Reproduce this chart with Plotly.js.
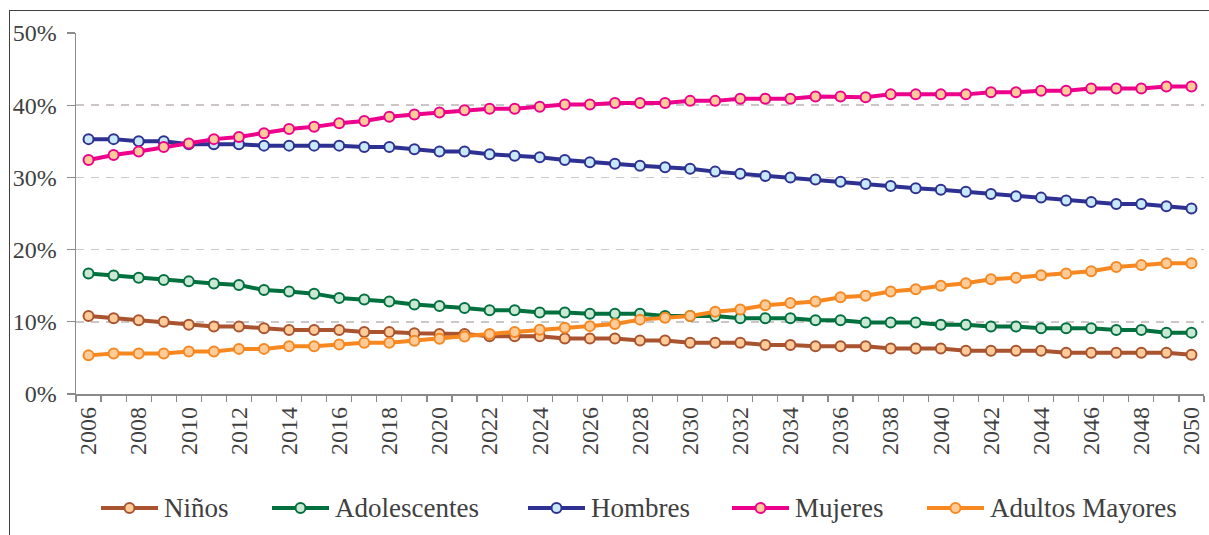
<!DOCTYPE html>
<html>
<head>
<meta charset="utf-8">
<script src="https://cdn.plot.ly/plotly-3.0.1.min.js"></script>
<style>
  html, body { margin: 0; padding: 0; background: #ffffff; overflow: hidden; }
  #wrap { position: relative; width: 1209px; height: 535px; }
  #chart { position: absolute; left: 0; top: 0; width: 1209px; height: 535px; }
  #frame {
    position: absolute; left: 9px; top: 10px; width: 1400px; height: 700px;
    border: 1.5px solid #404040; pointer-events: none;
  }
</style>
</head>
<body>
<div id="wrap">
  <div id="chart"></div>
  <div id="frame"></div>
</div>
<script>
// Population share by group, 2006-2050 (percent)
const years = [2006, 2007, 2008, 2009, 2010, 2011, 2012, 2013, 2014, 2015,
               2016, 2017, 2018, 2019, 2020, 2021, 2022, 2023, 2024, 2025,
               2026, 2027, 2028, 2029, 2030, 2031, 2032, 2033, 2034, 2035,
               2036, 2037, 2038, 2039, 2040, 2041, 2042, 2043, 2044, 2045,
               2046, 2047, 2048, 2049, 2050];

const ninos = [10.8, 10.5, 10.2, 10.0, 9.6, 9.35, 9.35, 9.1, 8.85, 8.85,
               8.85, 8.6, 8.6, 8.4, 8.3, 8.3, 8.0, 8.0, 8.0, 7.7,
               7.7, 7.7, 7.4, 7.4, 7.1, 7.1, 7.1, 6.8, 6.8, 6.6,
               6.6, 6.6, 6.3, 6.3, 6.3, 6.0, 6.0, 6.0, 6.0, 5.7,
               5.7, 5.7, 5.7, 5.7, 5.45];

const adolescentes = [16.7, 16.4, 16.1, 15.8, 15.6, 15.3, 15.1, 14.4, 14.2, 13.9,
                      13.3, 13.1, 12.8, 12.4, 12.2, 11.9, 11.6, 11.6, 11.3, 11.3,
                      11.1, 11.1, 11.1, 10.8, 10.8, 10.8, 10.5, 10.5, 10.5, 10.2,
                      10.2, 9.9, 9.9, 9.9, 9.6, 9.6, 9.35, 9.35, 9.1, 9.1,
                      9.1, 8.85, 8.85, 8.5, 8.5];

const hombres = [35.3, 35.3, 35.0, 35.0, 34.6, 34.6, 34.6, 34.4, 34.4, 34.4,
                 34.4, 34.2, 34.2, 33.9, 33.6, 33.6, 33.2, 33.0, 32.8, 32.4,
                 32.1, 31.9, 31.6, 31.4, 31.2, 30.8, 30.5, 30.2, 30.0, 29.7,
                 29.4, 29.1, 28.8, 28.5, 28.3, 28.0, 27.7, 27.4, 27.2, 26.8,
                 26.6, 26.3, 26.3, 26.0, 25.7];

const mujeres = [32.4, 33.1, 33.6, 34.2, 34.7, 35.3, 35.6, 36.1, 36.7, 37.0,
                 37.5, 37.8, 38.4, 38.7, 39.0, 39.3, 39.5, 39.5, 39.8, 40.1,
                 40.1, 40.3, 40.3, 40.3, 40.6, 40.6, 40.9, 40.9, 40.9, 41.2,
                 41.2, 41.1, 41.5, 41.5, 41.5, 41.5, 41.8, 41.8, 42.0, 42.0,
                 42.3, 42.3, 42.3, 42.6, 42.6];

const adultosMayores = [5.35, 5.6, 5.6, 5.6, 5.9, 5.9, 6.25, 6.25, 6.6, 6.6,
                        6.85, 7.1, 7.1, 7.37, 7.65, 7.97, 8.3, 8.6, 8.9, 9.17,
                        9.4, 9.7, 10.3, 10.55, 10.8, 11.4, 11.7, 12.3, 12.6, 12.8,
                        13.4, 13.6, 14.2, 14.5, 15.0, 15.35, 15.9, 16.1, 16.45, 16.7,
                        17.0, 17.6, 17.85, 18.1, 18.1];

const seriesNames = ['Niños', 'Adolescentes', 'Hombres', 'Mujeres', 'Adultos Mayores'];
const seriesValues = [ninos, adolescentes, hombres, mujeres, adultosMayores];
const lineColors = ['#A9532F', '#00703F', '#2E3192', '#EC008C', '#F7871F'];
const fillColors = ['#FFCC99', '#CBE8D5', '#C8E9F8', '#FFCC99', '#FFCC99'];

const serifFamily = 'Liberation Serif, DejaVu Serif';
const textColor = '#404040';
const axisColor = '#8a8a8a';

const traces = seriesNames.map((name, i) => ({
  type: 'scatter',
  mode: 'lines+markers',
  name: name,
  x: years,
  y: seriesValues[i],
  line: { color: lineColors[i], width: 4 },
  marker: {
    symbol: 'circle',
    size: 10,
    color: fillColors[i],
    line: { color: lineColors[i], width: 2 }
  },
  showlegend: false
}));

// Legend drawn below the plot: a line sample with a centred marker, then the name.
// Horizontal placement in pixels, converted to paper fraction of the plot width.
const plotLeft = 76, plotWidth = 1128, plotBottom = 394, plotHeight = 361;
const legendLineStart = [101, 272, 528, 732, 927];
const legendLineLength = 57;
const legendRowY = (plotBottom - 508) / plotHeight;
const toPaperX = px => (px - plotLeft) / plotWidth;

const shapes = [];
const annotations = [];
seriesNames.forEach((name, i) => {
  const x0 = toPaperX(legendLineStart[i]);
  const x1 = toPaperX(legendLineStart[i] + legendLineLength);
  const xm = (x0 + x1) / 2;
  shapes.push({
    type: 'line', xref: 'paper', yref: 'paper',
    x0: x0, x1: x1, y0: legendRowY, y1: legendRowY,
    line: { color: lineColors[i], width: 4 }
  });
  shapes.push({
    type: 'circle', xref: 'paper', yref: 'paper',
    xsizemode: 'pixel', ysizemode: 'pixel',
    xanchor: xm, yanchor: legendRowY,
    x0: -5, x1: 5, y0: -5, y1: 5,
    fillcolor: fillColors[i],
    line: { color: lineColors[i], width: 2 }
  });
  annotations.push({
    xref: 'paper', yref: 'paper',
    x: toPaperX(legendLineStart[i] + legendLineLength + 4),
    y: legendRowY,
    xanchor: 'left', yanchor: 'middle',
    text: name, showarrow: false,
    font: { family: serifFamily, size: 27, color: textColor }
  });
});

// Labels every second year; tick marks sit on the boundaries between years
const labelYears = years.filter(y => y % 2 === 0);

const layout = {
  width: 1209,
  height: 535,
  margin: { l: plotLeft, r: 1209 - plotLeft - plotWidth, t: 33, b: 535 - plotBottom },
  paper_bgcolor: '#ffffff',
  plot_bgcolor: '#ffffff',
  font: { family: serifFamily, color: textColor },
  showlegend: false,
  shapes: shapes,
  annotations: annotations,
  xaxis: {
    type: 'linear',
    range: [years[0] - 0.5, years[years.length - 1] + 0.5],
    tickmode: 'array',
    tickvals: labelYears,
    ticktext: labelYears.map(String),
    ticks: '',
    tickangle: -90,
    tickfont: { family: serifFamily, size: 24, color: textColor },
    ticklabelstandoff: 2,
    showline: true,
    linecolor: axisColor,
    linewidth: 1.5,
    showgrid: false,
    zeroline: false,
    minor: {
      tickmode: 'linear',
      tick0: years[0] - 0.5,
      dtick: 1,
      ticks: 'outside',
      ticklen: 6,
      tickwidth: 1.2,
      tickcolor: axisColor,
      showgrid: false
    },
    fixedrange: true
  },
  yaxis: {
    range: [0, 50],
    tickmode: 'linear',
    tick0: 0,
    dtick: 10,
    ticksuffix: '%',
    ticks: 'outside',
    ticklen: 8,
    tickwidth: 1.2,
    tickcolor: axisColor,
    tickfont: { family: serifFamily, size: 24, color: textColor },
    ticklabelstandoff: 5,
    showline: true,
    linecolor: axisColor,
    linewidth: 1.5,
    showgrid: true,
    gridcolor: '#cdc6c6',
    gridwidth: 1.5,
    griddash: '8px,7px',
    zeroline: false,
    fixedrange: true
  }
};

Plotly.newPlot('chart', traces, layout, { displayModeBar: false, staticPlot: true });
</script>
</body>
</html>
